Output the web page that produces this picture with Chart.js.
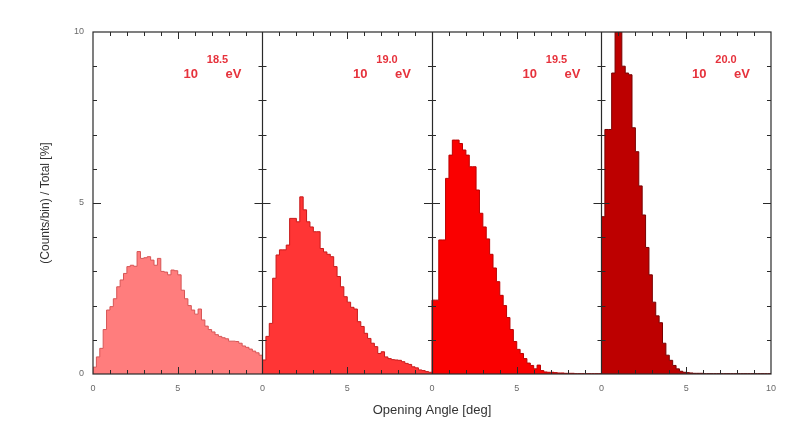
<!DOCTYPE html>
<html>
<head>
<meta charset="utf-8">
<script src="https://cdn.jsdelivr.net/npm/chart.js@4/dist/chart.umd.min.js"></script>
<style>
  html, body { margin: 0; padding: 0; background: #fff; }
  #wrap { width: 785px; height: 424px; }
</style>
</head>
<body>
<div id="wrap"><canvas id="c" width="785" height="424"></canvas></div>
<script>
// Opening-angle histograms, 0.2 deg bins, 0-10 deg, one panel per energy.
const energyExponents = ['18.5', '19.0', '19.5', '20.0'];
const binWidth = 0.2;
const panelSpan = 10;

// Fraction of events per bin [%]
const share185 = [0.2, 0.5, 0.75, 1.3, 1.87, 1.97, 2.2, 2.55, 2.75, 2.94,
                  3.14, 3.18, 3.15, 3.58, 3.38, 3.4, 3.43, 3.33, 3.18, 3.38,
                  3.0, 2.98, 2.9, 3.04, 3.02, 2.9, 2.45, 2.2, 2.0, 1.87,
                  1.75, 1.9, 1.58, 1.4, 1.3, 1.23, 1.15, 1.1, 1.06, 1.03,
                  0.96, 0.96, 0.95, 0.9, 0.82, 0.78, 0.73, 0.67, 0.62, 0.55];
const share190 = [0.41, 1.1, 1.48, 2.8, 3.48, 3.63, 3.63, 3.77, 4.55, 4.55,
                  4.45, 5.18, 4.8, 4.45, 4.3, 4.16, 4.16, 3.67, 3.57, 3.5,
                  3.43, 3.14, 2.85, 2.55, 2.26, 2.1, 1.95, 1.9, 1.53, 1.39,
                  1.19, 1.04, 0.9, 0.8, 0.6, 0.65, 0.5, 0.45, 0.42, 0.41,
                  0.4, 0.36, 0.31, 0.28, 0.21, 0.18, 0.12, 0.1, 0.07, 0.05];
const share195 = [2.16, 2.16, 3.92, 3.92, 5.72, 6.4, 6.84, 6.84, 6.74, 6.55,
                  6.4, 6.06, 6.06, 5.38, 4.7, 4.3, 3.95, 3.5, 3.1, 2.7,
                  2.3, 2.0, 1.65, 1.3, 0.95, 0.72, 0.6, 0.45, 0.32, 0.25,
                  0.15, 0.26, 0.1, 0.06, 0.05, 0.05, 0.04, 0.03, 0.03, 0.02,
                  0.02, 0.02, 0.01, 0.01, 0.01, 0.01, 0.01, 0.01, 0.01, 0.01];
const share200 = [4.6, 7.15, 7.15, 8.8, 10.6, 10.9, 9.0, 8.8, 8.75, 7.2,
                  6.5, 5.5, 4.65, 3.7, 2.9, 2.1, 1.7, 1.5, 0.9, 0.55,
                  0.4, 0.25, 0.15, 0.08, 0.05, 0.04, 0.03, 0.02, 0.02, 0.02,
                  0.01, 0.01, 0.01, 0.01, 0.01, 0.01, 0.01, 0.01, 0.01, 0.01,
                  0.01, 0.01, 0.01, 0.01, 0.01, 0.01, 0.01, 0.01, 0.01, 0.01];

const xTickValues = [0, 5, 10];
const yTickValues = [0, 5, 10];

const panels = [share185, share190, share195, share200];
const fills   = ['#ff7d7d', '#ff3535', '#fa0000', '#bd0000'];
const borders = ['#d65555', '#c81a1a', '#bb0000', '#780000'];

// Each panel sits on its own 10-degree stretch of a shared x axis.
function stepPoints(values, k) {
  const off = k * panelSpan;
  const pts = [{ x: off, y: 0 }];
  values.forEach((v, i) => pts.push({ x: off + i * binWidth, y: v }));
  pts.push({ x: off + panelSpan, y: values[values.length - 1] });
  pts.push({ x: off + panelSpan, y: 0 });
  return pts;
}

const datasets = panels.map((vals, k) => ({
  label: '10^' + energyExponents[k] + ' eV',
  data: stepPoints(vals, k),
  stepped: 'before',
  fill: 'origin',
  backgroundColor: fills[k],
  borderColor: borders[k],
  borderWidth: 1,
  pointRadius: 0,
  tension: 0
}));

// Frame, panel dividers, inward tick marks and energy labels.
const framePlugin = {
  id: 'framePlugin',
  afterDatasetsDraw(chart) {
    const { ctx, chartArea: a, scales: { x, y } } = chart;
    ctx.save();
    ctx.strokeStyle = '#2a2a2a';
    ctx.lineWidth = 1.2;
    ctx.strokeRect(a.left, a.top, a.right - a.left, a.bottom - a.top);
    const edges = [];
    for (let k = 0; k <= panels.length; k++) edges.push(k * panelSpan);
    ctx.beginPath();
    edges.slice(1, -1).forEach(e => {
      const px = Math.round(x.getPixelForValue(e)) + 0.5;
      ctx.moveTo(px, a.top); ctx.lineTo(px, a.bottom);
    });
    ctx.stroke();

    ctx.lineWidth = 1;
    ctx.beginPath();
    // x ticks, every degree, longer at 5
    for (let k = 0; k < panels.length; k++) {
      for (let d = 1; d < panelSpan; d++) {
        const px = Math.round(x.getPixelForValue(k * panelSpan + d)) + 0.5;
        const len = d % 5 === 0 ? 7 : 4;
        ctx.moveTo(px, a.bottom); ctx.lineTo(px, a.bottom - len);
        ctx.moveTo(px, a.top); ctx.lineTo(px, a.top + len);
      }
    }
    // y ticks on every vertical edge
    for (let v = 1; v < 10; v++) {
      const py = Math.round(y.getPixelForValue(v)) + 0.5;
      const len = v % 5 === 0 ? 8 : 4;
      edges.forEach((e, idx) => {
        const px = x.getPixelForValue(e);
        if (idx < edges.length - 1) { ctx.moveTo(px, py); ctx.lineTo(px + len, py); }
        if (idx > 0) { ctx.moveTo(px, py); ctx.lineTo(px - len, py); }
      });
    }
    ctx.stroke();

    // energy labels: 10^E eV
    ctx.fillStyle = '#e6323c';
    energyExponents.forEach((ex, k) => {
      const right = x.getPixelForValue((k + 1) * panelSpan);
      ctx.font = 'bold 13px "Liberation Sans", Arial, sans-serif';
      ctx.textBaseline = 'middle';
      ctx.textAlign = 'left';
      ctx.fillText('10', right - 79, 74);
      ctx.textAlign = 'right';
      ctx.fillText('eV', right - 21, 74);
      ctx.font = 'bold 11px "Liberation Sans", Arial, sans-serif';
      ctx.textAlign = 'center';
      ctx.fillText(ex, right - 45, 60);
    });
    ctx.restore();
  }
};

new Chart(document.getElementById('c'), {
  type: 'line',
  data: { datasets },
  options: {
    responsive: false,
    animation: false,
    layout: { padding: { top: 32, right: 12, left: 0, bottom: 0 } },
    plugins: { legend: { display: false }, tooltip: { enabled: false } },
    scales: {
      x: {
        type: 'linear',
        min: 0,
        max: panelSpan * panels.length,
        afterFit: s => { s.height = 50; },
        afterBuildTicks: s => {
          const t = [];
          for (let k = 0; k < panels.length; k++)
            xTickValues.forEach(v => { if (v < panelSpan || k === panels.length - 1) t.push({ value: k * panelSpan + v }); });
          s.ticks = t;
        },
        ticks: {
          autoSkip: false,
          maxRotation: 0,
          padding: 9,
          color: '#6a6a6a',
          font: { size: 9, family: '"Liberation Sans", Arial, sans-serif' },
          callback: v => (v === panelSpan * panels.length ? String(panelSpan) : String(v % panelSpan))
        },
        grid: { display: false, drawTicks: false },
        border: { display: false },
        title: {
          display: true,
          text: 'Opening Angle [deg]',
          color: '#333',
          font: { size: 13, family: '"Liberation Sans", Arial, sans-serif' },
          padding: { top: 0, bottom: 6 }
        }
      },
      y: {
        type: 'linear',
        min: 0,
        max: 10,
        afterFit: s => { s.width = 93; },
        afterBuildTicks: s => { s.ticks = yTickValues.map(v => ({ value: v })); },
        ticks: {
          padding: 9,
          color: '#6a6a6a',
          font: { size: 9, family: '"Liberation Sans", Arial, sans-serif' }
        },
        grid: { display: false, drawTicks: false },
        border: { display: false },
        title: {
          display: true,
          text: '(Counts/bin) / Total [%]',
          color: '#333',
          font: { size: 12, family: '"Liberation Sans", Arial, sans-serif' },
          padding: { top: 38, bottom: 0 }
        }
      }
    }
  },
  plugins: [framePlugin]
});
</script>
</body>
</html>
